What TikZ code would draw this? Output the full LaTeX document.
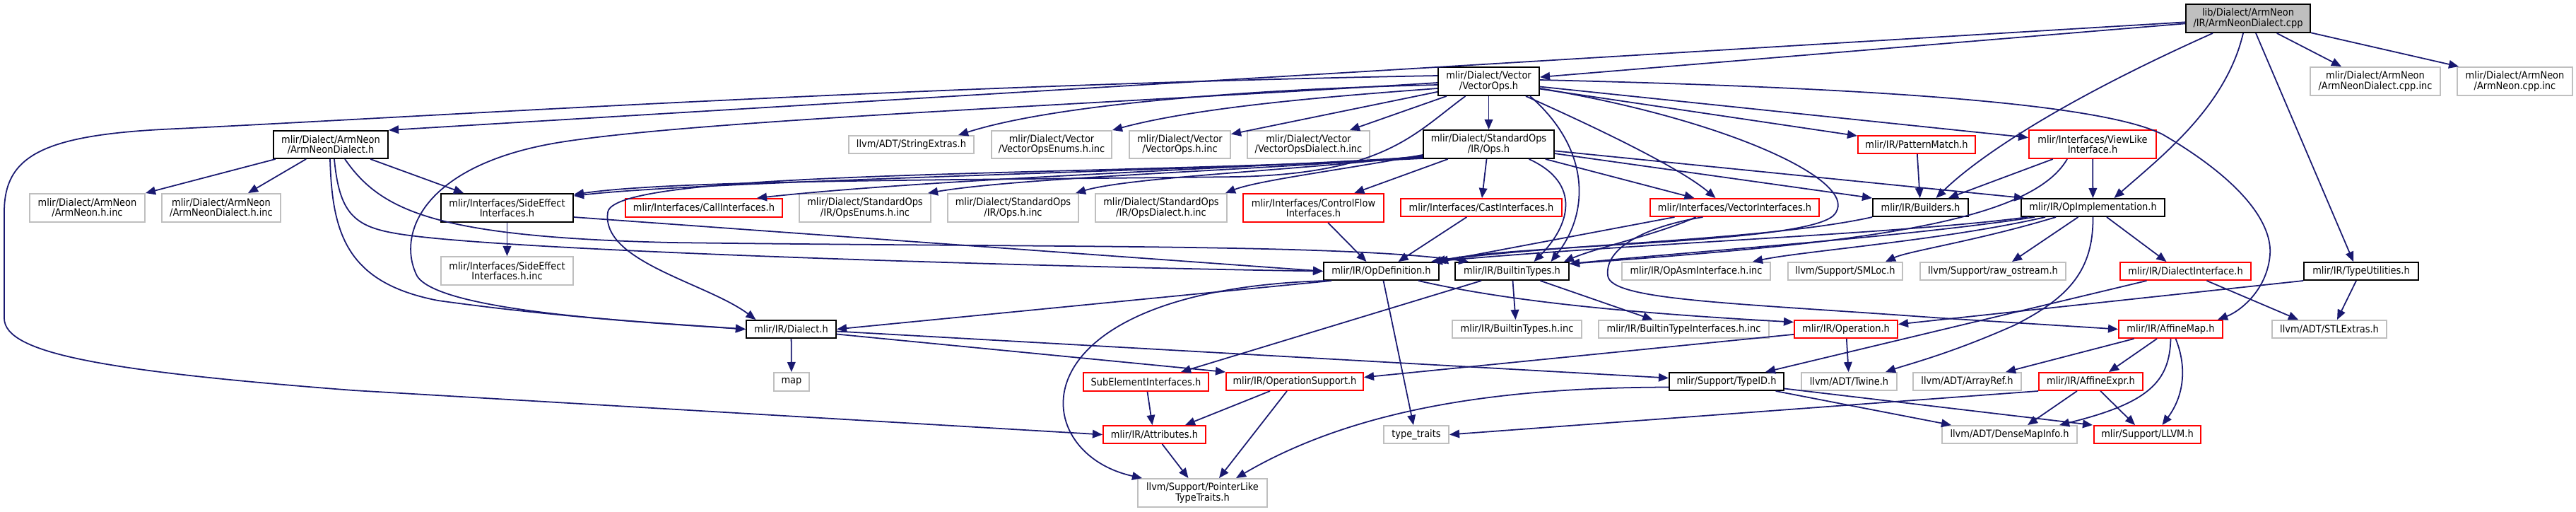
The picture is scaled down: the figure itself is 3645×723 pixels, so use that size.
\documentclass[tikz,border=0pt]{standalone}
\usepackage{fontspec}
\setmainfont{DejaVu Sans Condensed}
\usetikzlibrary{arrows.meta,calc}
\definecolor{edgeblue}{HTML}{191970}
\definecolor{grayb}{HTML}{BFBFBF}
\definecolor{redb}{HTML}{FF0000}
\newcommand{\bx}[7]{\node[#1,minimum width={(#5-#4)*0.01cm},minimum height={(#7-#6)*0.01cm}] (#2) at ({(#4+#5)/2},{(#6+#7)/2}) {#3};}
\tikzset{
 box/.style={draw, inner sep=0pt, align=center, line width=0.55pt, font=\fontsize{4.1}{4.0}\selectfont},
 blk/.style={box, draw=black},
 gry/.style={box, draw=grayb},
 rdb/.style={box, draw=redb},
 rootb/.style={box, draw=black, fill=grayb},
 ed/.style={draw=edgeblue, line width=0.5pt, -{Triangle[length=4pt,width=3.3pt]}},
}
\begin{document}
\begin{tikzpicture}[x=0.01cm,y=-0.01cm]
\useasboundingbox (0,0) rectangle (3645,723);
% nodes
\bx{rootb}{cpp}{lib/Dialect/ArmNeon\\/IR/ArmNeonDialect.cpp}{3093}{3269}{6}{46}
\bx{blk}{vops}{mlir/Dialect/Vector\\/VectorOps.h}{2035}{2178}{95}{135}
\bx{gry}{adcppinc}{mlir/Dialect/ArmNeon\\/ArmNeonDialect.cpp.inc}{3269}{3453}{95}{135}
\bx{gry}{acppinc}{mlir/Dialect/ArmNeon\\/ArmNeon.cpp.inc}{3477}{3640}{95}{135}
\bx{blk}{anh}{mlir/Dialect/ArmNeon\\/ArmNeonDialect.h}{387}{549}{185}{224}
\bx{gry}{strx}{llvm/ADT/StringExtras.h}{1201}{1378}{192}{217}
\bx{gry}{venum}{mlir/Dialect/Vector\\/VectorOpsEnums.h.inc}{1403}{1573}{185}{224}
\bx{gry}{vinc}{mlir/Dialect/Vector\\/VectorOps.h.inc}{1598}{1741}{185}{224}
\bx{gry}{vdinc}{mlir/Dialect/Vector\\/VectorOpsDialect.h.inc}{1765}{1938}{185}{224}
\bx{blk}{sops}{mlir/Dialect/StandardOps\\/IR/Ops.h}{2014}{2199}{184}{224}
\bx{rdb}{pm}{mlir/IR/PatternMatch.h}{2629}{2795}{192}{217}
\bx{rdb}{vl}{mlir/Interfaces/ViewLike\\Interface.h}{2871}{3051}{184}{224}
\bx{gry}{anhinc}{mlir/Dialect/ArmNeon\\/ArmNeon.h.inc}{42}{205}{274}{314}
\bx{gry}{andhinc}{mlir/Dialect/ArmNeon\\/ArmNeonDialect.h.inc}{229}{397}{274}{314}
\bx{blk}{se}{mlir/Interfaces/SideEffect\\Interfaces.h}{624}{811}{274}{314}
\bx{rdb}{call}{mlir/Interfaces/CallInterfaces.h}{885}{1107}{281}{307}
\bx{gry}{senum}{mlir/Dialect/StandardOps\\/IR/OpsEnums.h.inc}{1131}{1317}{274}{314}
\bx{gry}{sinc}{mlir/Dialect/StandardOps\\/IR/Ops.h.inc}{1341}{1526}{274}{314}
\bx{gry}{sdinc}{mlir/Dialect/StandardOps\\/IR/OpsDialect.h.inc}{1550}{1736}{274}{314}
\bx{rdb}{cf}{mlir/Interfaces/ControlFlow\\Interfaces.h}{1759}{1958}{274}{314}
\bx{rdb}{cast}{mlir/Interfaces/CastInterfaces.h}{1982}{2210}{281}{306}
\bx{rdb}{vi}{mlir/Interfaces/VectorInterfaces.h}{2335}{2574}{281}{306}
\bx{blk}{bld}{mlir/IR/Builders.h}{2650}{2785}{281}{306}
\bx{blk}{opi}{mlir/IR/OpImplementation.h}{2860}{3063}{281}{306}
\bx{blk}{tu}{mlir/IR/TypeUtilities.h}{3260}{3422}{371}{396}
\bx{gry}{seinc}{mlir/Interfaces/SideEffect\\Interfaces.h.inc}{624}{811}{363}{403}
\bx{blk}{opd}{mlir/IR/OpDefinition.h}{1873}{2036}{371}{396}
\bx{blk}{bt}{mlir/IR/BuiltinTypes.h}{2059}{2220}{371}{396}
\bx{gry}{asm}{mlir/IR/OpAsmInterface.h.inc}{2295}{2505}{371}{396}
\bx{gry}{sm}{llvm/Support/SMLoc.h}{2530}{2692}{371}{396}
\bx{gry}{ros}{llvm/Support/raw\_ostream.h}{2717}{2923}{371}{396}
\bx{rdb}{di}{mlir/IR/DialectInterface.h}{3000}{3185}{371}{396}
\bx{blk}{dia}{mlir/IR/Dialect.h}{1056}{1183}{453}{478}
\bx{gry}{btinc}{mlir/IR/BuiltinTypes.h.inc}{2055}{2238}{453}{478}
\bx{gry}{btiinc}{mlir/IR/BuiltinTypeInterfaces.h.inc}{2262}{2503}{453}{478}
\bx{rdb}{op}{mlir/IR/Operation.h}{2539}{2685}{453}{478}
\bx{rdb}{am}{mlir/IR/AffineMap.h}{2998}{3145}{453}{478}
\bx{gry}{stl}{llvm/ADT/STLExtras.h}{3215}{3377}{453}{478}
\bx{gry}{map}{map}{1095}{1145}{527}{553}
\bx{rdb}{sub}{SubElementInterfaces.h}{1533}{1710}{527}{553}
\bx{rdb}{ops}{mlir/IR/OperationSupport.h}{1735}{1929}{527}{552}
\bx{blk}{tid}{mlir/Support/TypeID.h}{2362}{2524}{527}{552}
\bx{gry}{tw}{llvm/ADT/Twine.h}{2549}{2684}{527}{552}
\bx{gry}{ar}{llvm/ADT/ArrayRef.h}{2707}{2860}{527}{552}
\bx{rdb}{ae}{mlir/IR/AffineExpr.h}{2885}{3032}{527}{552}
\bx{rdb}{attr}{mlir/IR/Attributes.h}{1561}{1706}{602}{627}
\bx{gry}{tt}{type\_traits}{1958}{2050}{602}{627}
\bx{gry}{dmi}{llvm/ADT/DenseMapInfo.h}{2748}{2939}{602}{627}
\bx{rdb}{llvm}{mlir/Support/LLVM.h}{2963}{3114}{602}{627}
\bx{gry}{plt}{llvm/Support/PointerLike\\TypeTraits.h}{1610}{1793}{677}{717}
% edges from root
\draw[ed] (cpp) -- (vops);
\draw[ed] (cpp) -- (anh.north east);
\draw[ed] ($(cpp.south)+(-50,0)$) .. controls (2900,150) and (2790,230) .. ($(bld.north)+(22,0)$);
\draw[ed] ($(cpp.south)+(-7,0)$) .. controls (3150,150) and (3060,220) .. ($(opi.north)+(30,0)$);
\draw[ed] ($(cpp.south)+(11,0)$) -- ($(tu.north)+(-11,0)$);
\draw[ed] (cpp) -- ($(adcppinc.north)+(-48,0)$);
\draw[ed] (cpp) -- ($(acppinc.north west)+(3,0)$);
% VectorOps.h
\draw[ed] (vops) -- (sops);
\draw[ed] (vops) -- (vdinc);
\draw[ed] (vops) -- (vinc);
\draw[ed] ($(vops.west)+(0,10)$) .. controls (1900,135) and (1700,150) .. (venum.north east);
\draw[ed] ($(vops.west)+(0,5)$) .. controls (1800,125) and (1500,145) .. ($(strx.north east)+(-23,0)$);
\draw[ed] ($(vops.west)+(0,-8)$) .. controls (1300,120) and (600,165) .. (250,182) .. controls (60,190) and (6,220) .. (6,300) -- (6,450) .. controls (6,500) and (150,525) .. (500,552) -- (attr.west);
\draw[ed] ($(vops.west)+(0,2)$) .. controls (1500,150) and (1000,170) .. (800,200) .. controls (600,230) and (560,330) .. (590,390) .. controls (620,440) and (900,455) .. (dia.west);
\draw[ed] ($(vops.south)+(-33,0)$) .. controls (2000,190) and (1960,245) .. (1750,250) .. controls (1300,255) and (950,255) .. ($(se.north east)+(0,2)$);
\draw[ed] ($(vops.east)+(0,10)$) .. controls (2450,170) and (2640,260) .. (2594,305) .. controls (2550,345) and (2150,345) .. ($(opd.north east)+(-6,0)$);
\draw[ed] ($(vops.south east)+(-14,0)$) .. controls (2250,210) and (2250,300) .. ($(bt.north)+(55,0)$);
\draw[ed] ($(vops.south east)+(-20,0)$) .. controls (2280,190) and (2380,240) .. ($(vi.north)+(-27,0)$);
\draw[ed] (vops) -- (pm);
\draw[ed] (vops) -- (vl);
\draw[ed] ($(vops.east)+(0,-2)$) .. controls (2700,125) and (2980,150) .. (3060,190) .. controls (3180,260) and (3215,320) .. (3212,360) .. controls (3208,410) and (3170,440) .. ($(am.north east)+(-8,0)$);
% StandardOps Ops.h
\draw[ed] ($(sops.south west)+(0,-2)$) .. controls (1800,238) and (1000,255) .. ($(se.north east)+(0,4)$);
\draw[ed] ($(sops.south west)+(0,-3)$) .. controls (1700,240) and (1300,255) .. ($(call.north east)+(-37,0)$);
\draw[ed] ($(sops.south west)+(0,-4)$) .. controls (1800,240) and (1450,250) .. ($(senum.north east)+(-5,0)$);
\draw[ed] ($(sops.south west)+(0,-5)$) .. controls (1850,240) and (1600,250) .. ($(sinc.north east)+(-5,0)$);
\draw[ed] ($(sops.south west)+(0,-6)$) .. controls (1900,240) and (1780,255) .. ($(sdinc.north east)+(-3,0)$);
\draw[ed] (sops) -- (cf);
\draw[ed] ($(sops.south)+(-3,0)$) -- ($(cast.north)+(1,0)$);
\draw[ed] (sops) -- ($(vi.north)+(-57,0)$);
\draw[ed] (sops) -- (bld.north west);
\draw[ed] (sops) -- ($(opi.north west)+(5,0)$);
\draw[ed] ($(sops.south west)+(0,-1)$) .. controls (1500,250) and (870,240) .. (860,300) .. controls (850,370) and (1000,400) .. ($(dia.north)+(-50,0)$);
\draw[ed] ($(sops.south)+(57,0)$) .. controls (2240,260) and (2220,320) .. ($(bt.north)+(31,0)$);
% ArmNeonDialect.h
\draw[ed] (anh) -- (anhinc.north east);
\draw[ed] (anh) -- ($(andhinc.north)+(38,0)$);
\draw[ed] (anh) -- ($(se.north west)+(33,0)$);
\draw[ed] ($(anh.south)+(-1,0)$) .. controls (470,330) and (490,400) .. (620,425) .. controls (800,450) and (950,458) .. (dia.west);
\draw[ed] ($(anh.south)+(5,0)$) .. controls (480,300) and (500,320) .. (560,330) .. controls (700,355) and (1500,378) .. (opd.west);
\draw[ed] ($(anh.south)+(20,0)$) .. controls (540,300) and (620,335) .. (950,343) .. controls (1500,350) and (1900,345) .. ($(bt.north west)+(20,0)$);
% SideEffect
\draw[ed] (se) -- (seinc);
\draw[ed] ($(se.east)+(0,13)$) -- (opd.west);
% PatternMatch, ViewLike
\draw[ed] (pm) -- (bld);
\draw[ed] (vl) -- ($(bld.north east)+(-29,0)$);
\draw[ed] (vl) -- (opi);
\draw[ed] ($(vl.south)+(-36,0)$) .. controls (2870,320) and (2600,345) .. ($(bt.north east)+(0,3)$);
% VectorInterfaces
\draw[ed] ($(vi.south)+(-85,0)$) -- ($(opd.north east)+(-2,0)$);
\draw[ed] ($(vi.south)+(-55,0)$) .. controls (2350,330) and (2260,350) .. ($(bt.north east)+(-8,0)$);
\draw[ed] ($(vi.south)+(-45,0)$) .. controls (2330,320) and (2270,350) .. (2275,390) .. controls (2280,425) and (2450,428) .. (2750,450) -- (am.west);
% Cast, ControlFlow, Builders
\draw[ed] (cast) -- ($(opd.north)+(24,0)$);
\draw[ed] (cf) -- ($(opd.north)+(-21,0)$);
\draw[ed] (bld.south west) .. controls (2500,340) and (2200,345) .. ($(opd.north east)+(-12,0)$);
% OpImplementation
\draw[ed] ($(opi.south west)+(10,0)$) .. controls (2700,330) and (2300,345) .. ($(opd.north east)+(-10,0)$);
\draw[ed] ($(opi.south west)+(20,0)$) .. controls (2700,335) and (2400,355) .. ($(bt.north east)+(0,3)$);
\draw[ed] ($(opi.south west)+(35,0)$) .. controls (2750,340) and (2550,355) .. ($(asm.north east)+(-26,0)$);
\draw[ed] ($(opi.south west)+(50,0)$) .. controls (2800,340) and (2700,355) .. ($(sm.north east)+(-25,0)$);
\draw[ed] ($(opi.south)+(-21,0)$) -- ($(ros.north east)+(-77,0)$);
\draw[ed] (opi.south) .. controls (2962,380) and (2930,420) .. (2850,460) .. controls (2760,500) and (2700,515) .. ($(tw.north east)+(-17,0)$);
\draw[ed] ($(opi.south east)+(-83,0)$) -- ($(di.north)+(-27,0)$);
% TypeUtilities, DialectInterface
\draw[ed] (tu.south west) -- ($(op.east)+(0,-7)$);
\draw[ed] ($(tu.south)+(-7,0)$) -- ($(stl.north)+(11,0)$);
\draw[ed] ($(di.south)+(30,0)$) -- ($(stl.north west)+(38,0)$);
\draw[ed] ($(di.south)+(-55,0)$) -- ($(tid.north east)+(-27,0)$);
% AffineMap, AffineExpr
\draw[ed] (am) -- ($(ar.north east)+(-23,0)$);
\draw[ed] (am) -- ($(ae.north east)+(-49,0)$);
\draw[ed] (am.south) .. controls (3070,540) and (3040,570) .. ($(dmi.north east)+(-26,0)$);
\draw[ed] ($(am.south)+(7,0)$) .. controls (3095,520) and (3090,560) .. ($(llvm.north)+(21,0)$);
\draw[ed] (ae) -- ($(dmi.north east)+(-71,0)$);
\draw[ed] (ae) -- ($(llvm.north west)+(59,0)$);
\draw[ed] (ae.south west) -- (tt.east);
% Operation
\draw[ed] (op) -- ($(ops.east)+(0,-6)$);
\draw[ed] (op) -- (tw);
% Dialect
\draw[ed] (dia) -- (map);
\draw[ed] ($(dia.east)+(0,3)$) -- ($(tid.west)+(0,-5)$);
\draw[ed] ($(dia.east)+(0,7)$) -- (ops.north west);
% OpDefinition
\draw[ed] ($(opd.south west)+(12,0)$) -- (dia.east);
\draw[ed] ($(opd.south west)+(5,0)$) .. controls (1430,410) and (1450,640) .. ($(plt.north west)+(7,0)$);
\draw[ed] ($(opd.south)+(3,0)$) -- ($(tt.north)+(-4,0)$);
\draw[ed] ($(opd.south east)+(-30,0)$) .. controls (2150,430) and (2350,445) .. ($(op.west)+(0,-10)$);
% BuiltinTypes
\draw[ed] ($(bt.south)+(1,0)$) -- ($(btinc.north)+(-2,0)$);
\draw[ed] ($(bt.south)+(40,0)$) -- ($(btiinc.north)+(-44,0)$);
\draw[ed] ($(bt.south west)+(38,0)$) -- ($(sub.north east)+(-40,0)$);
% lower levels
\draw[ed] ($(sub.south)+(2,0)$) -- ($(attr.north)+(-3,0)$);
\draw[ed] ($(ops.south)+(-35,0)$) -- ($(attr.north east)+(-30,0)$);
\draw[ed] ($(ops.south)+(-11,0)$) -- ($(plt.north east)+(-69,0)$);
\draw[ed] ($(attr.south)+(11,0)$) -- ($(plt.north)+(-20,0)$);
\draw[ed] ($(tid.west)+(0,8)$) .. controls (2150,548) and (1930,570) .. ($(plt.north east)+(-45,0)$);
\draw[ed] (tid) -- ($(dmi.north west)+(14,0)$);
\draw[ed] ($(tid.east)+(0,10)$) -- ($(llvm.north west)+(-1,0)$);
\end{tikzpicture}
\end{document}
